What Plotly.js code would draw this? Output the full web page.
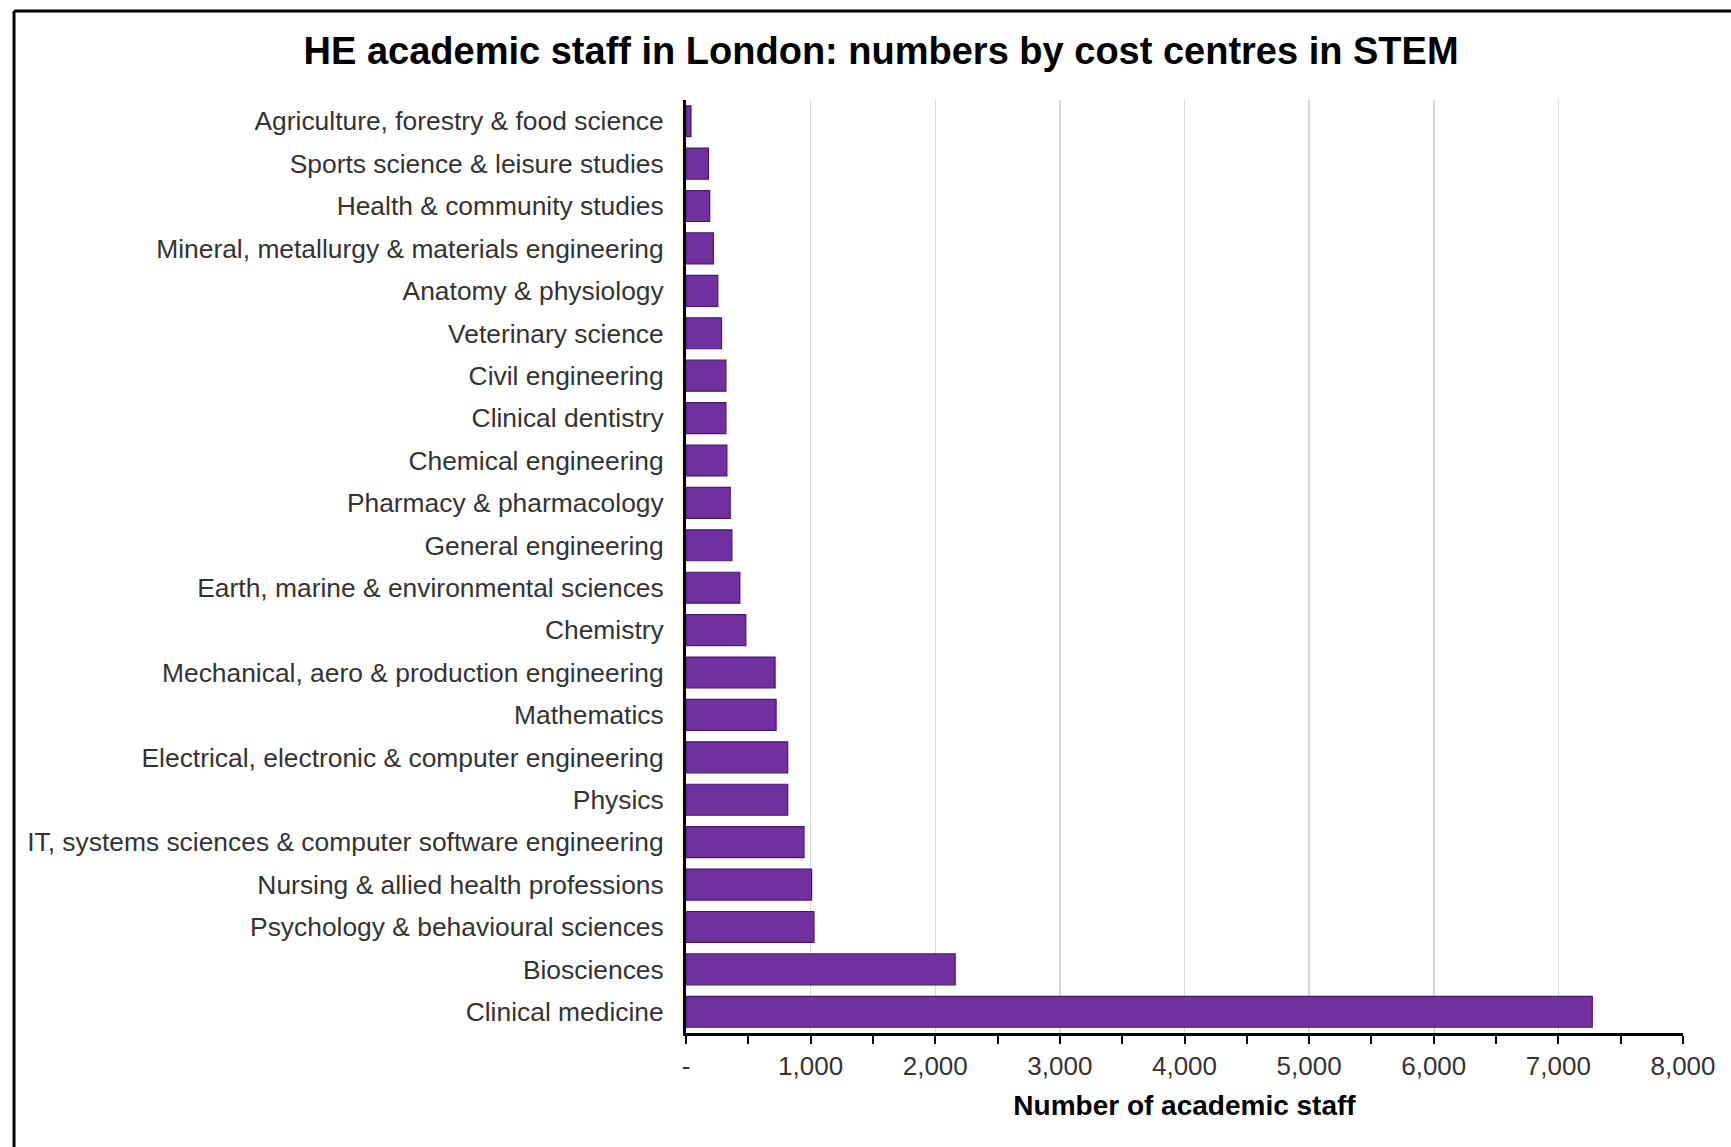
<!DOCTYPE html>
<html>
<head>
<meta charset="utf-8">
<script src="https://cdn.plot.ly/plotly-3.0.1.min.js"></script>
<style>html,body{margin:0;padding:0;background:#fff;}</style>
</head>
<body>
<div id="chart" style="width:1731px;height:1147px;"></div>
<script>
const categories = [
  "Agriculture, forestry & food science",
  "Sports science & leisure studies",
  "Health & community studies",
  "Mineral, metallurgy & materials engineering",
  "Anatomy & physiology",
  "Veterinary science",
  "Civil engineering",
  "Clinical dentistry",
  "Chemical engineering",
  "Pharmacy & pharmacology",
  "General engineering",
  "Earth, marine & environmental sciences",
  "Chemistry",
  "Mechanical, aero & production engineering",
  "Mathematics",
  "Electrical, electronic & computer engineering",
  "Physics",
  "IT, systems sciences & computer software engineering",
  "Nursing & allied health professions",
  "Psychology & behavioural sciences",
  "Biosciences",
  "Clinical medicine"
];
const staff = [40, 180, 190, 220, 255, 285, 320, 320, 328, 355, 368, 432, 480, 715, 723, 816, 816, 947, 1008, 1027, 2160, 7272];
const tickValues = [0, 1000, 2000, 3000, 4000, 5000, 6000, 7000, 8000];
const tickLabels = ["-", "1,000", "2,000", "3,000", "4,000", "5,000", "6,000", "7,000", "8,000"];

const font = "Liberation Sans, Arial, sans-serif";

const trace = {
  type: "bar",
  orientation: "h",
  x: staff,
  y: categories,
  marker: {color: "#7030A0", line: {color: "#4a1870", width: 1.2}},
  hoverinfo: "x+y"
};

const layout = {
  width: 1731,
  height: 1147,
  margin: {l: 686, r: 48, t: 100, b: 114},
  paper_bgcolor: "#ffffff",
  plot_bgcolor: "#ffffff",
  bargap: 0.27,
  showlegend: false,
  title: {
    text: "HE academic staff in London: numbers by cost centres in STEM",
    font: {family: font, size: 38, color: "#000000", weight: "bold"},
    x: 0.509, xanchor: "center", xref: "container",
    y: 0.956, yanchor: "middle", yref: "container"
  },
  xaxis: {
    range: [0, 8000],
    tickvals: tickValues,
    ticktext: tickLabels,
    showgrid: true,
    gridcolor: "#d9d9d9",
    gridwidth: 1.5,
    zeroline: false,
    showline: true,
    linecolor: "#000000",
    linewidth: 2.5,
    ticks: "outside",
    ticklen: 8,
    tickwidth: 2,
    tickcolor: "#000000",
    minor: {dtick: 500, ticks: "outside", ticklen: 8, tickwidth: 2, tickcolor: "#000000", showgrid: false},
    tickfont: {family: font, size: 26, color: "#333333"},
    title: {text: "Number of academic staff", font: {family: font, size: 28, color: "#000000", weight: "bold"}, standoff: 16},
    fixedrange: true
  },
  yaxis: {
    type: "category",
    categoryorder: "array",
    categoryarray: categories,
    autorange: "reversed",
    showgrid: false,
    zeroline: false,
    showline: true,
    linecolor: "#000000",
    linewidth: 3,
    ticks: "",
    ticklabelstandoff: 14,
    tickfont: {family: font, size: 26.4, color: "#333333"},
    fixedrange: true
  },
  shapes: [
    {type: "line", xref: "paper", yref: "paper", x0: -0.674, x1: 1.1, y0: 1.0954, y1: 1.0954, line: {color: "#000000", width: 3}},
    {type: "line", xref: "paper", yref: "paper", x0: -0.674, x1: -0.674, y0: -0.2, y1: 1.0954, line: {color: "#000000", width: 3}}
  ]
};

Plotly.newPlot("chart", [trace], layout, {displayModeBar: false, staticPlot: true});
</script>
</body>
</html>
